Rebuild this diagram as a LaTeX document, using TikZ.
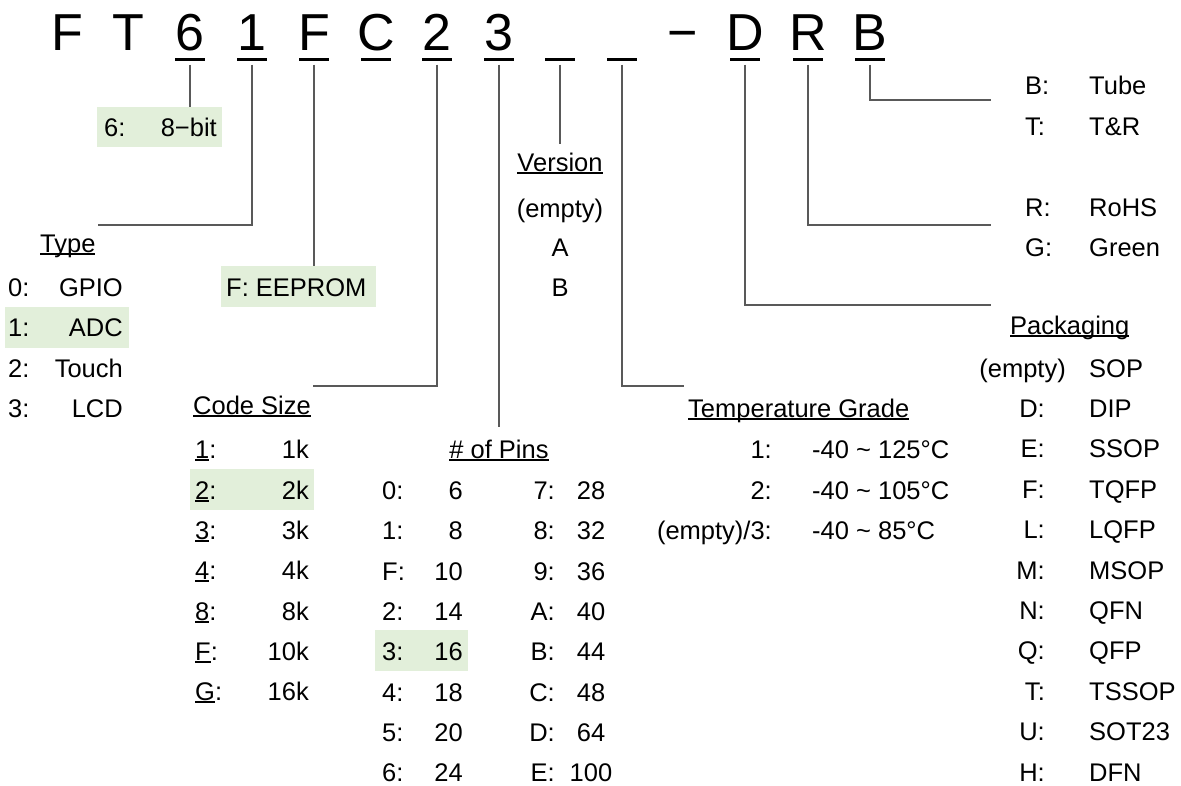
\documentclass[tikz,border=0pt]{standalone}
\usepackage{fontspec}
\setmainfont{Liberation Sans}
\newcommand{\myul}[1]{\setbox0\hbox{#1}\rlap{\rule[-0.11em]{\wd0}{0.055em}}\box0}
\definecolor{hl}{HTML}{E2EFDA}
\definecolor{connc}{HTML}{595959}
\begin{document}
\begin{tikzpicture}[x=1pt,y=-1pt,
  txt/.style={font=\fontsize{25.5}{30}\selectfont, inner sep=0pt},
  big/.style={font=\fontsize{52}{60}\selectfont, inner sep=0pt, anchor=base},
  uline/.style={fill=black, inner sep=0pt, minimum width=30pt, minimum height=3pt, outer ysep=4pt},
  conn/.style={draw=connc, line width=1.3pt},
  hlbox/.style={fill=hl, inner sep=0pt, anchor=north west}]
\useasboundingbox (0,0) rectangle (1181,785);
% ---- highlight boxes
\node[hlbox, minimum width=125pt, minimum height=40pt] (box6) at (97,107) {};
\node[hlbox, minimum width=124pt, minimum height=41pt] (boxadc) at (5,307) {};
\node[hlbox, minimum width=155pt, minimum height=41pt] (boxF) at (221,266) {};
\node[hlbox, minimum width=124pt, minimum height=41pt] (box2k) at (190,469) {};
\node[hlbox, minimum width=93pt, minimum height=41pt] (box16) at (375,630) {};
% ---- top part number
\node[big] (lF) at (67,50) {F};
\node[big] (lT) at (128,50) {T};
\node[big] (l6) at (190,50) {6};
\node[big] (l1) at (252,50) {1};
\node[big] (lF2) at (314,50) {F};
\node[big] (lC) at (376,50) {C};
\node[big] (l2) at (437,50) {2};
\node[big] (l3) at (499,50) {3};
\node[big] (ldash) at (683,50) {−};
\node[big] (lD) at (745,50) {D};
\node[big] (lR) at (808,50) {R};
\node[big] (lB) at (870,50) {B};
\foreach \n/\x in {6/190, 1/252, F/314, C/376, 2/437, 3/499, a/560, b/622, D/745, R/808, B/870}
  \node[uline] (u\n) at (\x,59) {};
% ---- 8-bit
\node[txt, anchor=base west] (k6) at (104,136) {6:};
\node[txt, anchor=base east] (v6) at (217,136) {8−bit};
% ---- Type
\node[txt, anchor=base west] (typeT) at (40,252) {\myul{Type}};
\foreach \k/\v/\y [count=\i] in {0/GPIO/287, 1/ADC/327.5, 2/Touch/368, 3/LCD/408.5} {
  \node[txt, anchor=base west] (tk\i) at (8,\y+9) {\k:};
  \node[txt, anchor=base east] (tv\i) at (123,\y+9) {\v};
}
% ---- EEPROM
\node[txt, anchor=base west] (eep) at (226,296) {F: EEPROM};
% ---- Code size
\node[txt, anchor=base west] (codeT) at (193,414) {\myul{Code Size}};
\foreach \k/\v/\y [count=\i] in {1/1k/449, 2/2k/490, 3/3k/530, 4/4k/570, 8/8k/611, F/10k/651, G/16k/691} {
  \node[txt, anchor=base west] (ck\i) at (195,\y+9) {\myul{\k}:};
  \node[txt, anchor=base east] (cv\i) at (309,\y+9) {\v};
}
% ---- Pins
\node[txt, anchor=base] (pinsT) at (499,458) {\myul{\# of Pins}};
\foreach \k/\v/\y [count=\i] in {0/6/490, 1/8/530, F/10/571, 2/14/611, 3/16/651, 4/18/692, 5/20/732, 6/24/772} {
  \node[txt, anchor=base west] (pk\i) at (382,\y+9) {\k:};
  \node[txt, anchor=base east] (pv\i) at (463,\y+9) {\v};
}
\foreach \k/\v/\y [count=\i] in {7/28/490, 8/32/530, 9/36/571, A/40/611, B/44/651, C/48/692, D/64/732, E/100/772} {
  \node[txt, anchor=base east] (qk\i) at (555,\y+9) {\k:};
  \node[txt, anchor=base] (qv\i) at (591,\y+9) {\v};
}
% ---- Version
\node[txt, anchor=base] (verT) at (560,171) {\myul{Version}};
\node[txt, anchor=base] (ver1) at (560,217) {(empty)};
\node[txt, anchor=base] (ver2) at (560,256) {A};
\node[txt, anchor=base] (ver3) at (560,296) {B};
% ---- Temperature
\node[txt, anchor=base west] (tempT) at (688,417) {\myul{Temperature Grade}};
\foreach \k/\v/\y [count=\i] in {{1:}/{-40 \textasciitilde\ 125°C}/449, {2:}/{-40 \textasciitilde\ 105°C}/490, {(empty)/3:}/{-40 \textasciitilde\ 85°C}/530} {
  \node[txt, anchor=base east] (gk\i) at (772,\y+9) {\k};
  \node[txt, anchor=base west] (gv\i) at (812,\y+9) {\v};
}
% ---- Tube / RoHS
\node[txt, anchor=base west] (bk) at (1025,94) {B:};
\node[txt, anchor=base west] (bv) at (1089,94) {Tube};
\node[txt, anchor=base west] (tk) at (1025,135) {T:};
\node[txt, anchor=base west] (tv) at (1089,135) {T\&R};
\node[txt, anchor=base west] (rk) at (1025,216) {R:};
\node[txt, anchor=base west] (rv) at (1089,216) {RoHS};
\node[txt, anchor=base west] (gk) at (1025,256) {G:};
\node[txt, anchor=base west] (gv) at (1089,256) {Green};
% ---- Packaging
\node[txt, anchor=base west] (packT) at (1010,334) {\myul{Packaging}};
\node[txt, anchor=base east] (ak1) at (1066,377) {(empty)};
\node[txt, anchor=base west] (av1) at (1089,377) {SOP};
\foreach \k/\v [count=\i from 2] in {D/DIP, E/SSOP, F/TQFP, L/LQFP, M/MSOP, N/QFN, Q/QFP, T/TSSOP, U/SOT23, H/DFN} {
  \node[txt, anchor=base east] (ak\i) at (1045,{368+40.4*(\i-1)+9}) {\k:};
  \node[txt, anchor=base west] (av\i) at (1089,{368+40.4*(\i-1)+9}) {\v};
}
% ---- connectors
\coordinate (c1) at (98,225);
\coordinate (c2) at (313,386);
\coordinate (c3) at (499,427);
\coordinate (ca) at (560,144);
\coordinate (cb) at (684,386);
\coordinate (cD) at (991,305);
\coordinate (cR) at (991,225);
\coordinate (cB) at (991,100);
\draw[conn] (u6.south) -- (u6.south |- box6.north);
\draw[conn] (u1.south) |- (c1);
\draw[conn] (uF.south) -- (uF.south |- boxF.north);
\draw[conn] (u2.south) |- (c2);
\draw[conn] (u3.south) -- (c3);
\draw[conn] (ua.south) -- (ca);
\draw[conn] (ub.south) |- (cb);
\draw[conn] (uD.south) |- (cD);
\draw[conn] (uR.south) |- (cR);
\draw[conn] (uB.south) |- (cB);
\end{tikzpicture}
\end{document}
